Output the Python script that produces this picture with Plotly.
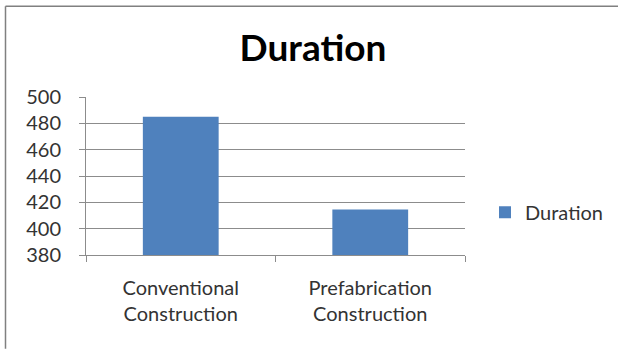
import plotly.graph_objects as go

categories = ["Conventional<br>Construction", "Prefabrication<br>Construction"]
durations = [485, 414.5]
series_name = "Duration"
y_ticks = [380, 400, 420, 440, 460, 480, 500]

W, H = 618, 349
L, R, T, B = 86, 465, 96.5, 255

def px_x(px):
    return (px - L) / (R - L)

def px_y(py):
    return (B - py) / (B - T)

FONT = "Lato"
fig = go.Figure()
fig.add_trace(go.Bar(x=categories, y=durations, name=series_name,
                     marker=dict(color="#4F81BD", line=dict(width=0)),
                     showlegend=True))

grid = "#8C8C8C"
fig.update_layout(
    width=W, height=H,
    margin=dict(l=L, r=W - R, t=T, b=H - B, pad=0, autoexpand=False),
    paper_bgcolor="white", plot_bgcolor="white",
    bargap=0.6,
    title=dict(text="<b>Duration</b>", x=px_x(313), xref="paper", xanchor="center",
               y=1 - 48 / H, yanchor="middle",
               font=dict(family=FONT, size=37, color="#000000")),
    font=dict(family=FONT, size=20, color="#333333"),
    showlegend=True,
    legend=dict(x=px_x(485), xanchor="left", y=px_y(212), yanchor="middle",
                font=dict(family=FONT, size=20, color="#333333"),
                bgcolor="rgba(0,0,0,0)", itemwidth=30),
    xaxis=dict(showgrid=False, showline=True, linecolor=grid, linewidth=1,
               ticks="outside", ticklen=6, tickcolor=grid, tickson="boundaries",
               tickfont=dict(family=FONT, size=20, color="#333333"),
               ticklabelstandoff=15),
    yaxis=dict(range=[380, 500], tickvals=y_ticks, showgrid=True, gridcolor=grid,
               gridwidth=1, showline=True, linecolor=grid, linewidth=1,
               ticks="outside", ticklen=6, tickcolor=grid, zeroline=False,
               tickfont=dict(family=FONT, size=20, color="#333333"),
               ticklabelstandoff=14),
    shapes=[
        dict(type="line", xref="paper", yref="paper",
             x0=px_x(5.5), x1=px_x(618), y0=px_y(5.5), y1=px_y(5.5),
             line=dict(color="#808080", width=1.5)),
        dict(type="line", xref="paper", yref="paper",
             x0=px_x(5.5), x1=px_x(5.5), y0=px_y(5.5), y1=px_y(349),
             line=dict(color="#808080", width=1.5)),
    ],
)
fig.write_html("out.html")
